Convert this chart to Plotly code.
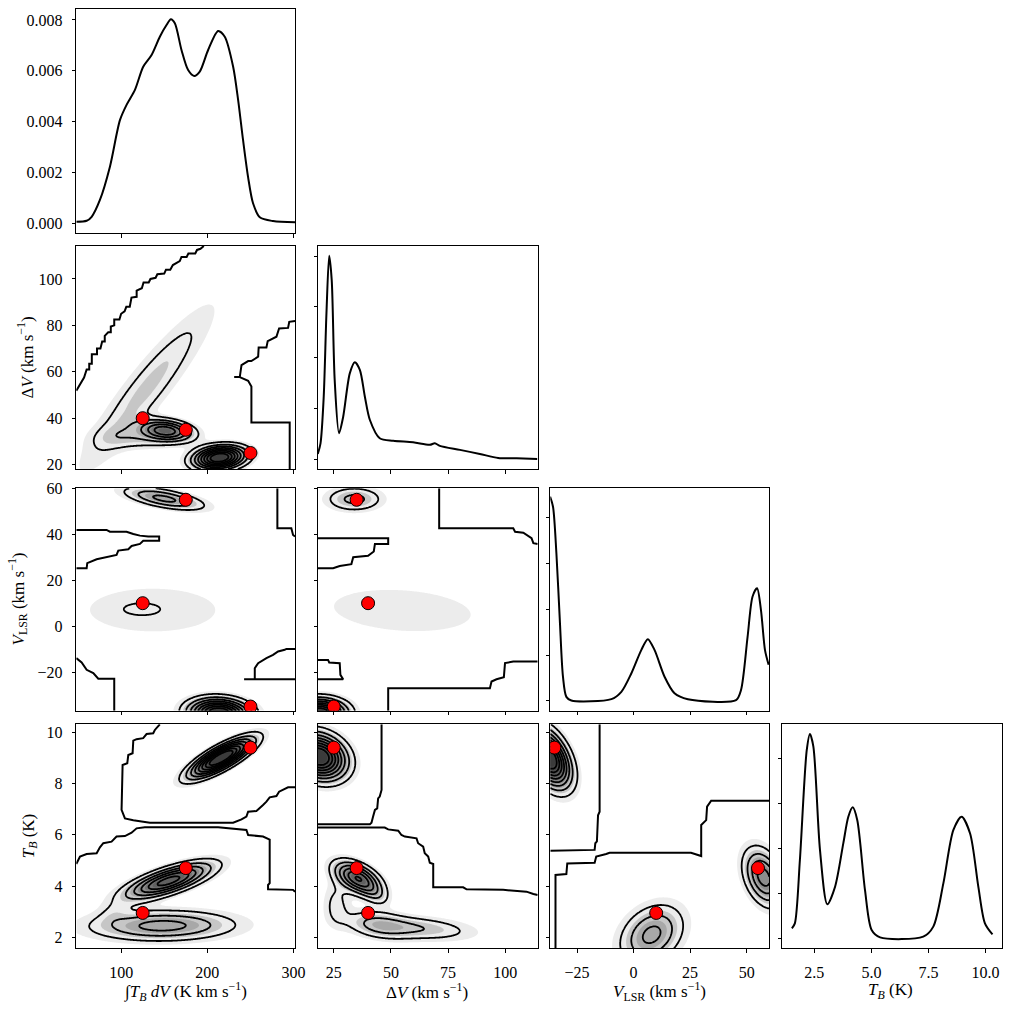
import numpy as np
import plotly.graph_objects as go

FONT = "Liberation Serif"
PX = 1011.0

# ---------------- data ----------------
VARS = ["A", "W", "V", "T"]
RANGE = {"A": [48.0, 302.0], "W": [18.1, 114.2], "V": [-36.8, 60.0], "T": [1.57, 10.31]}
T_DIAG_RANGE = [1.1, 10.73]

TRUE_A = [125, 175, 250]
TRUE_W = [40, 35, 25]
TRUE_V = [10, 55, -35]
TRUE_T = [2.95, 4.7, 9.4]

# marginal KDE curves
KDE_A_X = [48.0, 60.0, 65.8, 75.4, 87.0, 98.6, 106.3, 116.0, 125.6, 135.3, 144.9, 152.6, 157.7, 162.3,
           170.0, 177.7, 184.7, 191.2, 200.9, 212.5, 220.2, 229.9, 235.7, 241.4, 247.2, 253.0, 260.8, 276.2, 301.7]
KDE_A_Y = [0.000064, 0.000103, 0.00026, 0.00092, 0.00223, 0.00406, 0.00466, 0.00525, 0.00616, 0.00662,
           0.00734, 0.0078, 0.00803, 0.00787, 0.00682, 0.00603, 0.0058, 0.00597, 0.00682, 0.00757, 0.00734,
           0.00616, 0.00485, 0.00328, 0.00183, 0.00079, 0.00024, 0.00009, 0.00004]
KDE_W_X = [18.0, 19.2, 20.6, 21.8, 23.0, 24.1, 25.4, 27.3, 29.1, 32.0, 34.2, 36.4, 38.6, 40.8, 45.1, 51.0,
           59.7, 67.0, 69.2, 71.4, 80.2, 88.9, 96.9, 105.0, 114.0]
KDE_W_Y = [0.00099, 0.0031, 0.0123, 0.0288, 0.0401, 0.0353, 0.0156, 0.0051, 0.0083, 0.0169, 0.0191, 0.0176,
           0.0123, 0.0077, 0.0041, 0.0036, 0.0033, 0.0028, 0.0031, 0.0026, 0.0018, 0.0010, 0.0002, 0.00013, 0.0]
KDE_V_X = [-36.9, -35.6, -34.1, -32.6, -31.2, -29.7, -27.5, -9.8, -5.4, -1.0, 3.4, 6.3, 9.3, 13.7, 18.1,
           24.0, 45.3, 47.5, 50.4, 52.6, 54.6, 56.3, 58.1, 59.7]
KDE_V_Y = [0.0446, 0.0424, 0.0322, 0.0177, 0.0053, 0.0009, 0.0001, 0.0004, 0.0020, 0.0060, 0.0111, 0.0135,
           0.0111, 0.0053, 0.0017, 0.0004, 0.0002, 0.0024, 0.0140, 0.0228, 0.0246, 0.0199, 0.0111, 0.0079]
KDE_T_X = [1.52, 1.65, 1.87, 2.17, 2.31, 2.46, 2.75, 3.07, 3.41, 3.77, 3.99, 4.18, 4.38, 4.72, 5.01, 5.38,
           7.27, 7.71, 8.15, 8.59, 8.95, 9.32, 9.68, 9.97, 10.30]
KDE_T_Y = [0.0222, 0.0333, 0.174, 0.418, 0.454, 0.426, 0.196, 0.0755, 0.1147, 0.211, 0.270, 0.291, 0.263,
           0.107, 0.0184, 0.002, 0.0036, 0.026, 0.122, 0.241, 0.270, 0.233, 0.115, 0.0333, 0.0088]

DIAG_YRANGE = [[-0.00039, 0.00842], [-0.00197, 0.04203], [-0.00212, 0.04642], [-0.0222, 0.4756]]
DIAG_YTICKS = [[0, 0.002, 0.004, 0.006, 0.008], [0, 0.01, 0.02, 0.03, 0.04],
               [0, 0.01, 0.02, 0.03, 0.04], [0, 0.1, 0.2, 0.3, 0.4]]
DIAG1_YLABELS = ["0.000", "0.002", "0.004", "0.006", "0.008"]

# 2-D posterior density components per panel: [mean_x, mean_y, sd_x, sd_y, corr, peak]
BLOBS_AW = [[214, 23, 19, 3.2, 0.2, 9.3], [152, 34.8, 20, 3.0, -0.25, 5.3],
            [130, 53, 50, 23, 0.92, 1.7], [122, 31.5, 30, 3.3, 0.0, 1.4]]
BLOBS_AV = [[214, -38, 22, 4.0, -0.1, 9.5], [150, 55.5, 30, 3.2, -0.6, 3.3],
            [137, 7, 70, 9, 0.0, 0.85], [120, 7.5, 20, 2.5, 0.0, 0.35]]
BLOBS_WV = [[18.5, -38, 7.5, 4.0, 0.0, 9.5], [34, 55.3, 8.1, 3.5, 0.0, 2.3],
            [55, 6.8, 29, 8.7, -0.2, 0.85]]
BLOBS_AT = [[216, 9.0, 23, 0.48, 0.8, 9.5], [155, 4.2, 32, 0.45, 0.72, 6.5],
            [148, 2.45, 54, 0.38, 0.05, 3.4], [92, 3.0, 12, 0.3, 0.3, 0.6]]
BLOBS_WT = [[18.5, 9.05, 7.5, 0.56, -0.2, 9.5], [35.5, 4.3, 6.5, 0.42, -0.5, 6.0],
            [43, 3.7, 4, 0.3, -0.5, 1.1],
            [44, 2.5, 9, 0.38, -0.3, 1.7], [62, 2.35, 16, 0.32, -0.3, 1.9],
            [26, 3.3, 4, 0.6, 0.0, 1.2]]
BLOBS_VT = [[-37.5, 9.0, 6, 0.72, -0.45, 9.5], [57.5, 4.35, 5.6, 0.71, -0.35, 4.5],
            [8, 2.1, 9, 0.75, 0.3, 3.3]]

# lowest-level (noisy) contour lines
STEP_AW = [
    ([48, 52, 57, 60, 63, 63, 66, 66, 72, 72, 76, 78, 81, 81, 85, 88, 88, 92, 92, 98, 100, 104, 106, 110,
      112, 118, 118, 124, 126, 132, 134, 140, 142, 150, 152, 157, 160, 168, 170, 176, 178, 186, 188, 192, 195.9],
     [51.8, 54.5, 57.5, 61, 61, 63.5, 63.5, 67.5, 67.5, 70, 70, 73, 73, 75.5, 77, 77, 79.5, 80, 82.5, 82.5,
      85, 86, 88, 88, 92, 92.3, 95, 96, 98.5, 98.5, 100, 100.5, 102, 102.3, 104, 104, 106, 107.7, 109.5,
      109.5, 111, 111, 112.5, 113, 114.2]),
    ([231.1, 237.6, 239.6, 247.3, 251, 258.9, 259.5, 268.5, 270, 280.1, 283.2, 293.6, 295, 301.7],
     [57.7, 57.7, 62.9, 64.6, 64.6, 66.5, 70.5, 70.5, 73.2, 75.1, 78.7, 78.9, 81.5, 81.9]),
    ([237.6, 247.3, 251.1, 251.1, 295.5, 295.5], [57.7, 56.1, 53.6, 38.1, 38.1, 18.1]),
]
STEP_AV = [
    ([48, 83.1, 87.0, 106.3, 114.1, 121.8, 131.4, 144.1, 144.1, 125.6, 121.8, 112.1, 108.3, 96.7, 94.7,
      83.1, 71.6, 60.7, 60.0, 48],
     [41.9, 41.9, 41.1, 41.1, 40.1, 39.4, 39.0, 39.0, 37.2, 37.2, 35.8, 34.9, 33.5, 32.9, 31.0, 30.0,
      29.1, 27.4, 25.2, 25.2]),
    ([281.2, 281.2, 297.4, 299.4, 301.7], [60, 42.6, 42.6, 39.7, 39.0]),
    ([48, 54.2, 60.0, 67.7, 73.5, 92.0, 92.0], [-13.9, -15.8, -19.0, -20.4, -22.9, -22.9, -36.8]),
    ([242.6, 301.7], [-23.1, -23.1]),
    ([255.0, 255.0, 258.9, 264.6, 268.5, 276.2, 282.0, 289.7, 291.6, 301.7],
     [-23.1, -18.3, -16.1, -14.7, -13.9, -12.5, -11.0, -10.3, -9.9, -9.9]),
]
STEP_WV = [
    ([71.1, 71.1, 103.5, 104.3, 107.9, 110.1, 111.5, 112.3, 114.2],
     [60, 42.6, 42.6, 41.1, 40.7, 39.0, 38.3, 36.1, 35.8]),
    ([18.0, 48.8, 48.8, 43.0, 42.5, 40.0, 33.5, 32.7, 27.6, 24.7, 18.0],
     [38.3, 38.3, 35.8, 35.8, 32.5, 30.6, 30.0, 27.0, 26.2, 25.2, 25.2]),
    ([18.0, 22.5, 23.0, 27.6, 27.9, 29.1, 18.0], [-14.7, -14.7, -15.8, -16.1, -21.2, -23.1, -23.1]),
    ([48.8, 48.8, 93.3, 94.0, 96.2, 99.4, 99.9, 103.5, 114.2],
     [-36.8, -27.0, -27.0, -24.1, -23.1, -22.2, -16.1, -15.4, -15.4]),
]
STEP_AT = [
    ([144.9, 139.1, 137.2, 129.5, 125.6, 117.9, 114.1, 113.3, 108.3, 107.1, 101.7, 100.5, 104.4, 114.1,
      133.4, 229.9, 239.6, 245.3, 247.3, 256.9, 264.6, 268.5, 272.3, 280.1, 283.2, 290.9, 293.6, 301.7],
     [10.31, 10.09, 9.96, 9.93, 9.77, 9.73, 9.67, 9.18, 9.11, 8.79, 8.72, 6.97, 6.64, 6.57, 6.47, 6.47,
      6.60, 6.71, 6.90, 6.93, 7.16, 7.29, 7.46, 7.51, 7.68, 7.81, 7.85, 7.85]),
    ([48, 52.3, 60.0, 71.6, 75.4, 79.3, 88.9, 94.7, 104.4, 112.1, 117.9, 127.5, 212.5, 229.9, 245.3, 247.3,
      264.6, 272.3, 272.3, 270.4, 270.4, 299.4, 301.7],
     [4.86, 5.15, 5.25, 5.28, 5.51, 5.67, 5.73, 5.93, 5.95, 6.08, 6.25, 6.29, 6.29, 6.24, 6.19, 5.99, 5.93,
      5.81, 4.11, 4.04, 3.87, 3.85, 3.78]),
]
STEP_WT = [
    ([45.9, 45.9, 45.1, 44.4, 44.0, 43.0, 42.2, 41.5, 40.8, 18.0],
     [10.31, 7.75, 7.49, 7.42, 7.03, 6.97, 6.71, 6.47, 6.41, 6.41]),
    ([18.0, 47.3, 48.8, 53.2, 54.6, 56.1, 61.2, 61.9, 64.1, 64.8, 66.3, 67.0, 68.5, 68.5, 81.6, 83.1, 99.1,
      109.3, 112.3, 114.2],
     [6.28, 6.28, 6.21, 6.16, 5.99, 5.93, 5.86, 5.67, 5.54, 5.28, 5.15, 4.91, 4.86, 3.95, 3.95, 3.87, 3.85,
      3.78, 3.69, 3.65]),
]
STEP_VT = [
    ([-15.0, -15.0, -15.7, -16.2, -16.9, -17.2, -36.8], [10.31, 6.90, 6.76, 5.74, 5.67, 5.41, 5.38]),
    ([-34.5, -34.5, -29.7, -29.3, -17.2, -16.5, -12.1, -10.6, 25.4, 29.9, 29.9, 32.1, 32.5, 34.3, 60.0],
     [1.57, 4.43, 4.47, 4.88, 4.91, 5.15, 5.25, 5.30, 5.30, 5.17, 6.38, 6.57, 7.10, 7.33, 7.33]),
]

XTICKS = {"A": [100, 200, 300], "W": [25, 50, 75, 100], "V": [-25, 0, 25, 50], "T": [2.5, 5.0, 7.5, 10.0]}
XLABELS = {"A": ["100", "200", "300"], "W": ["25", "50", "75", "100"],
           "V": ["\u221225", "0", "25", "50"], "T": ["2.5", "5.0", "7.5", "10.0"]}
YTICKS = {"W": [20, 40, 60, 80, 100], "V": [-20, 0, 20, 40, 60], "T": [2, 4, 6, 8, 10]}
YLABELS = {"W": ["20", "40", "60", "80", "100"], "V": ["\u221220", "0", "20", "40", "60"],
           "T": ["2", "4", "6", "8", "10"]}

TRUE = {"A": TRUE_A, "W": TRUE_W, "V": TRUE_V, "T": TRUE_T}
KDE = [(KDE_A_X, KDE_A_Y), (KDE_W_X, KDE_W_Y), (KDE_V_X, KDE_V_Y), (KDE_T_X, KDE_T_Y)]
BLOBS = {(1, 0): BLOBS_AW, (2, 0): BLOBS_AV, (2, 1): BLOBS_WV,
         (3, 0): BLOBS_AT, (3, 1): BLOBS_WT, (3, 2): BLOBS_VT}
STEPS = {(1, 0): STEP_AW, (2, 0): STEP_AV, (2, 1): STEP_WV,
         (3, 0): STEP_AT, (3, 1): STEP_WT, (3, 2): STEP_VT}

X_TITLES = ["\u222b<i>T<sub>B</sub> dV</i> (K km s<sup>\u22121</sup>)",
            "\u0394<i>V</i> (km s<sup>\u22121</sup>)",
            "<i>V</i><sub>LSR</sub> (km s<sup>\u22121</sup>)",
            "<i>T<sub>B</sub></i> (K)"]
Y_TITLES = [None, "\u0394<i>V</i> (km s<sup>\u22121</sup>)",
            "<i>V</i><sub>LSR</sub> (km s<sup>\u22121</sup>)", "<i>T<sub>B</sub></i> (K)"]

# ---------------- layout geometry (pixels) ----------------
COLS = [(76.3, 295.3), (318.0, 537.7), (550.3, 769.3), (782.3, 1002.3)]
ROWS = [(9.3, 233.3), (246.0, 469.0), (488.3, 710.7), (724.3, 948.3)]

GREYS = ["#ffffff", "#ececec", "#c6c6c6", "#a8a8a8", "#8c8c8c", "#747474",
         "#606060", "#505050", "#454545", "#3b3b3b"]
FILL_SCALE = [[k / 9.0, c] for k, c in enumerate(GREYS)]


def density(blobs, xs, ys):
    X, Y = np.meshgrid(xs, ys)
    Z = np.zeros_like(X)
    for mx, my, sx, sy, rho, pk in blobs:
        dx = (X - mx) / sx
        dy = (Y - my) / sy
        q = (dx * dx - 2 * rho * dx * dy + dy * dy) / (1 - rho * rho)
        Z += pk * np.exp(-0.5 * q)
    return Z


fig = go.Figure()
layout = {}
tickfont = dict(family=FONT, size=16, color="black")

n = 0
for r in range(4):
    for c in range(r + 1):
        n += 1
        xa = "x" if n == 1 else f"x{n}"
        ya = "y" if n == 1 else f"y{n}"
        xkey = "xaxis" if n == 1 else f"xaxis{n}"
        ykey = "yaxis" if n == 1 else f"yaxis{n}"
        vx = VARS[c]
        vy = VARS[r]
        diag = r == c
        if diag:
            xr = T_DIAG_RANGE if c == 3 else RANGE[vx]
            yr = DIAG_YRANGE[c]
        else:
            xr = RANGE[vx]
            yr = RANGE[vy]

        common = dict(showline=True, mirror=True, linecolor="black", linewidth=1, ticks="outside",
                      ticklen=3.5, tickwidth=1, tickcolor="black", showgrid=False, zeroline=False,
                      tickfont=tickfont, ticklabelstandoff=6, fixedrange=True, automargin=False)
        xax = dict(common, domain=[COLS[c][0] / PX, COLS[c][1] / PX], range=xr, anchor=ya,
                   tickvals=XTICKS[vx], ticktext=XLABELS[vx], showticklabels=(r == 3))
        if diag:
            yax = dict(common, domain=[1 - ROWS[r][1] / PX, 1 - ROWS[r][0] / PX], range=yr, anchor=xa,
                       tickvals=DIAG_YTICKS[c], showticklabels=(c == 0))
            if c == 0:
                yax["ticktext"] = DIAG1_YLABELS
        else:
            yax = dict(common, domain=[1 - ROWS[r][1] / PX, 1 - ROWS[r][0] / PX], range=yr, anchor=xa,
                       tickvals=YTICKS[vy], ticktext=YLABELS[vy], showticklabels=(c == 0))
        layout[xkey] = xax
        layout[ykey] = yax

        if diag:
            kx, ky = KDE[c]
            fig.add_trace(go.Scatter(x=kx, y=ky, mode="lines",
                                     line=dict(color="black", width=2, shape="spline", smoothing=0.8),
                                     xaxis=xa, yaxis=ya, showlegend=False, hoverinfo="skip"))
        else:
            xs = np.linspace(xr[0], xr[1], 220)
            ys = np.linspace(yr[0], yr[1], 220)
            Z = density(BLOBS[(r, c)], xs, ys)
            fig.add_trace(go.Contour(x=xs, y=ys, z=Z, xaxis=xa, yaxis=ya, showscale=False,
                                     colorscale=FILL_SCALE,
                                     contours=dict(start=0.5, end=8.5, size=1, coloring="fill", showlines=False),
                                     line=dict(width=0), hoverinfo="skip"))
            fig.add_trace(go.Contour(x=xs, y=ys, z=Z, xaxis=xa, yaxis=ya, showscale=False,
                                     colorscale=[[0, "black"], [1, "black"]],
                                     contours=dict(start=1, end=8, size=1, coloring="lines"),
                                     line=dict(width=1.8, smoothing=1.0), hoverinfo="skip"))
            for sx_, sy_ in STEPS[(r, c)]:
                fig.add_trace(go.Scatter(x=sx_, y=sy_, mode="lines", line=dict(color="black", width=2),
                                         xaxis=xa, yaxis=ya, showlegend=False, hoverinfo="skip"))
            fig.add_trace(go.Scatter(x=TRUE[vx], y=TRUE[vy], mode="markers",
                                     marker=dict(size=13, color="red", line=dict(color="black", width=1)),
                                     xaxis=xa, yaxis=ya, showlegend=False, hoverinfo="skip"))

annotations = []
XLAB_CX = [185.0, 426.7, 659.0, 890.7]
for c in range(4):
    annotations.append(dict(text=X_TITLES[c], x=XLAB_CX[c] / PX, y=1 - 991 / PX, xref="paper", yref="paper",
                            showarrow=False, xanchor="center", yanchor="middle",
                            font=dict(family=FONT, size=17, color="black")))
YLAB_X = [None, 25.0, 18.0, 30.0]
for r in range(1, 4):
    cy = (ROWS[r][0] + ROWS[r][1]) / 2
    annotations.append(dict(text=Y_TITLES[r], x=YLAB_X[r] / PX, y=1 - cy / PX, xref="paper", yref="paper",
                            showarrow=False, xanchor="center", yanchor="middle", textangle=-90,
                            font=dict(family=FONT, size=17, color="black")))

fig.update_layout(width=1011, height=1011, autosize=False,
                  margin=dict(l=0, r=0, t=0, b=0, pad=0, autoexpand=False),
                  paper_bgcolor="white", plot_bgcolor="white", showlegend=False,
                  annotations=annotations, **layout)

fig.write_html("out.html", config={"displayModeBar": False})
